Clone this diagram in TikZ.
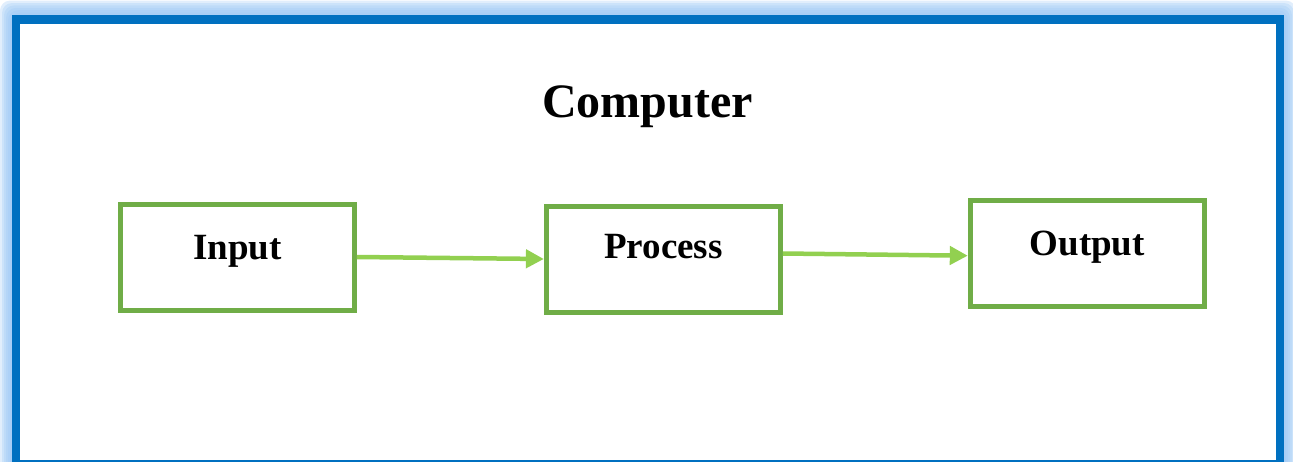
\documentclass[tikz,border=0pt]{standalone}
\usepackage{fontspec}
\setmainfont{Liberation Serif}
\usetikzlibrary{arrows.meta}

\definecolor{frameblue}{HTML}{0070C0}
\definecolor{glowblue}{HTML}{9CC8F5}
\definecolor{boxgreen}{HTML}{70AD47}
\definecolor{arrowgreen}{HTML}{92D050}

\begin{document}
\begin{tikzpicture}[x=1pt, y=-1pt, > = {Triangle[length=18pt,width=18pt]},
    box/.style={draw=boxgreen, line width=5pt, minimum width=234pt, minimum height=106pt, inner sep=0},
    lbl/.style={font=\bfseries\fontsize{37}{40}\selectfont, anchor=base, inner sep=0},
    flow/.style={->, draw=arrowgreen, line width=4.5pt}]

         \useasboundingbox (0,0) rectangle (1293,461);
         % glow round the frame
         \foreach \i in {6,...,1}
            \fill[glowblue, opacity=0.3, rounded corners=10pt] (12-2*\i,15-2.4*\i) rectangle (1284+2*\i,480);
         \draw[frameblue, line width=8.5pt, fill=white] (16,19.5) rectangle (1280,464);

         \node(title) at (647.5,117) [anchor=base, inner sep=0, font=\bfseries\fontsize{48}{52}\selectfont]{Computer};

         \node(Input) at (237.3,257) [box]{};
         \node(Process) at (663.4,259) [box]{};
         \node(Output) at (1087.3,253.2) [box]{};

         \node(inputtext) at ([yshift=-2pt]Input.center) [lbl]{Input};
         \node(processtext) at ([yshift=0.7pt]Process.center) [lbl]{Process};
         \node(outputtext) at ([yshift=-1.8pt]Output.center) [lbl]{Output};

         \draw[flow] (Input.east) -- (Process.west);
         \draw[flow] ([yshift=5.5pt]Process.east) -- ([yshift=-2.5pt]Output.west);

\end{tikzpicture}
\end{document}
